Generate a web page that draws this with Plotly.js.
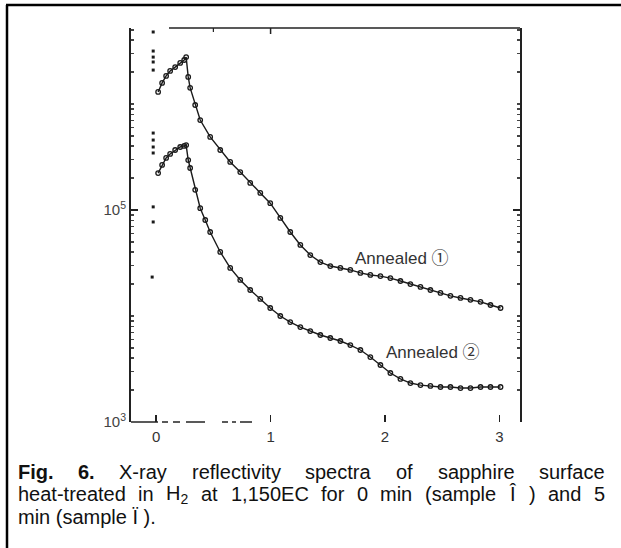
<!DOCTYPE html>
<html>
<head>
<meta charset="utf-8">
<script src="https://cdn.plot.ly/plotly-3.0.1.min.js"></script>
<style>html,body{margin:0;padding:0;background:#fff;}#chart{width:621px;height:548px;}</style>
</head>
<body>
<div id="chart"></div>
<script>
// ---- data (x: scattering vector units, y: reflectivity counts) ----
const spike1_x = [-0.026, -0.026, -0.026, -0.026, -0.026];
const spike1_y = [4.78e6, 3.16e6, 2.77e6, 2.49e6, 2.09e6];
const spike2_x = [-0.026, -0.026, -0.026, -0.026, -0.026, -0.026, -0.035];
const spike2_y = [5.32e5, 4.57e5, 3.93e5, 3.45e5, 1.07e5, 7.71e4, 2.33e4];

const annealed1_x = [0.017,0.052,0.087,0.122,0.166,0.21,0.245,0.262,0.28,0.297,0.341,0.385,0.472,0.56,0.647,0.735,0.822,0.91,0.997,1.085,1.172,1.26,1.347,1.435,1.522,1.61,1.697,1.785,1.872,1.96,2.047,2.135,2.222,2.31,2.397,2.485,2.572,2.66,2.747,2.835,2.922,3.01];
const annealed1_y = [1.30e6,1.58e6,1.84e6,2.05e6,2.23e6,2.44e6,2.60e6,2.77e6,1.80e6,1.42e6,9.79e5,7.06e5,4.89e5,3.68e5,2.84e5,2.28e5,1.80e5,1.45e5,1.16e5,8.41e4,6.20e4,4.68e4,3.76e4,3.23e4,2.96e4,2.84e4,2.72e4,2.55e4,2.44e4,2.38e4,2.28e4,2.14e4,2.00e4,1.88e4,1.76e4,1.65e4,1.55e4,1.48e4,1.42e4,1.36e4,1.27e4,1.19e4];

const annealed2_x = [0.017,0.052,0.087,0.122,0.166,0.21,0.245,0.262,0.28,0.297,0.341,0.385,0.429,0.472,0.56,0.647,0.735,0.822,0.91,0.997,1.085,1.172,1.26,1.347,1.435,1.522,1.61,1.697,1.785,1.872,1.96,2.047,2.135,2.222,2.31,2.397,2.485,2.572,2.66,2.747,2.835,2.922,3.01];
const annealed2_y = [2.23e5,2.66e5,3.10e5,3.38e5,3.68e5,3.93e5,4.02e5,4.10e5,2.96e5,2.49e5,1.55e5,1.04e5,8.05e4,6.20e4,4.02e4,2.84e4,2.19e4,1.76e4,1.45e4,1.19e4,1.0e4,8.77e3,7.87e3,7.21e3,6.62e3,6.20e3,5.81e3,5.32e3,4.78e3,4.10e3,3.45e3,2.90e3,2.55e3,2.33e3,2.23e3,2.19e3,2.14e3,2.14e3,2.09e3,2.09e3,2.14e3,2.14e3,2.14e3];

const xTickVals = [0, 1, 2, 3];
const xTickText = ['0', '1', '2', '3'];
const yTickVals = [1e3, 1e5];
const yTickText = ['10<sup>3</sup>', '10<sup>5</sup>'];
const seriesLabels = ['Annealed \u2460', 'Annealed \u2461'];
const captionLine1 = ['<b>Fig.</b>', '<b>6.</b>', 'X-ray', 'reflectivity', 'spectra', 'of', 'sapphire', 'surface'];
const captionLine2 = ['heat-treated', 'in', 'H<sub>2</sub>', 'at', '1,150EC', 'for', '0', 'min', '(sample', '\u00CE', ')', 'and', '5'];
const captionLine3 = 'min (sample \u00CF ).';

// ---- layout geometry ----
const W = 621, H = 548, ML = 131, MR = 101, MT = 28, MB = 126;
const PW = W - ML - MR, PH = H - MT - MB;
const px = v => (v - ML) / PW;
const py = v => (MT + PH - v) / PH;

const ink = '#1a1a1a';
const markerStyle = {symbol: 'circle-open', size: 4.5, color: ink, line: {width: 1.3, color: ink}};

const traces = [
  {x: annealed1_x, y: annealed1_y, mode: 'lines+markers', line: {color: ink, width: 1.4}, marker: markerStyle, name: seriesLabels[0]},
  {x: annealed2_x, y: annealed2_y, mode: 'lines+markers', line: {color: ink, width: 1.4}, marker: markerStyle, name: seriesLabels[1]},
  {x: spike1_x, y: spike1_y, mode: 'markers', marker: {symbol: 'square', size: 3, color: ink}},
  {x: spike2_x, y: spike2_y, mode: 'markers', marker: {symbol: 'square', size: 3, color: ink}}
];

const capFont = {family: 'Liberation Sans, Arial, sans-serif', size: 20, color: '#111'};
function word(text, x, y) {
  return {text: text, xref: 'paper', yref: 'paper', x: px(x), y: py(y),
    xanchor: 'left', yanchor: 'middle', showarrow: false, font: capFont, borderpad: 0, borderwidth: 0};
}
const annotations = [];
const lineWords = [];
[[captionLine1, 472], [captionLine2, 494]].forEach(([words, yy]) => {
  const idx = [];
  words.forEach((w, i) => { idx.push(annotations.length); annotations.push(word(w, 18 + i * 40, yy)); });
  lineWords.push(idx);
});
annotations.push(word(captionLine3, 18, 517));

const lblFont = {family: 'Liberation Sans, Arial, Noto Sans CJK SC, sans-serif', size: 17, color: '#333'};
annotations.push({text: seriesLabels[0], x: 2.15, y: Math.log10(3.52e4), xref: 'x', yref: 'y', showarrow: false, font: lblFont});
annotations.push({text: seriesLabels[1], x: 2.42, y: Math.log10(4.48e3), xref: 'x', yref: 'y', showarrow: false, font: lblFont});

const axisInk = '#222';
const shapes = [
  // outer figure box (left and top edges)
  {type: 'line', xref: 'paper', yref: 'paper', x0: px(7), x1: px(7), y0: py(5), y1: py(560), line: {color: '#000', width: 2.5}},
  {type: 'line', xref: 'paper', yref: 'paper', x0: px(6), x1: px(630), y0: py(5), y1: py(5), line: {color: '#000', width: 2.5}},
  // partial top frame
  {type: 'line', xref: 'paper', yref: 'paper', x0: px(169), x1: 1, y0: 1, y1: 1, line: {color: axisInk, width: 1.5}},
  {type: 'line', xref: 'x', yref: 'paper', x0: 0.5, x1: 0.5, y0: 1, y1: py(32), line: {color: axisInk, width: 1.2}},
  {type: 'line', xref: 'x', yref: 'paper', x0: 1, x1: 1, y0: 1, y1: py(34), line: {color: axisInk, width: 1.5}},
];
// broken bottom axis as it appears in the scan
const bottomSegs = [[131, 158], [162, 168], [173, 180], [186, 205], [222, 228], [232, 236], [240, 252]];
bottomSegs.forEach(s => shapes.push({type: 'line', xref: 'paper', yref: 'paper', x0: px(s[0]), x1: px(s[1]), y0: 0, y1: 0, line: {color: axisInk, width: 1.5}}));

const layout = {
  width: W, height: H,
  margin: {l: ML, r: MR, t: MT, b: MB, pad: 0},
  paper_bgcolor: '#fff', plot_bgcolor: '#fff',
  showlegend: false,
  xaxis: {range: [-0.22, 3.18], tickmode: 'array', tickvals: xTickVals, ticktext: xTickText,
    ticks: 'inside', ticklen: 7, tickwidth: 1.5, tickcolor: axisInk, showline: false, showgrid: false, zeroline: false,
    ticklabelstandoff: 4,
    tickfont: {family: 'Liberation Sans, Arial, sans-serif', size: 15, color: '#333'}},
  yaxis: {type: 'log', range: [3, 6.717], tickmode: 'array', tickvals: yTickVals, ticktext: yTickText,
    ticks: 'inside', ticklen: 7, tickwidth: 1.5, tickcolor: axisInk, showline: true, linewidth: 2, linecolor: axisInk,
    mirror: 'ticks', showgrid: false, zeroline: false,
    minor: {ticks: 'inside', ticklen: 3, tickcolor: '#444', dtick: 'D1', showgrid: false},
    tickfont: {family: 'Liberation Sans, Arial, sans-serif', size: 15, color: '#444'}},
  annotations: annotations,
  shapes: shapes
};

const gd = document.getElementById('chart');
Plotly.newPlot(gd, traces, layout, {staticPlot: true, displayModeBar: false}).then(() => {
  // justify caption lines 1 and 2 between x=18 and x=605 using measured word widths
  const els = gd.querySelectorAll('.infolayer g.annotation');
  const widthOf = i => {
    const g = Array.from(els).find(e => +e.getAttribute('data-index') === i);
    const t = g ? g.querySelector('text') : null;
    return t ? t.getBoundingClientRect().width : 0;
  };
  const upd = {};
  lineWords.forEach(idx => {
    const ws = idx.map(widthOf);
    const total = ws.reduce((a, b) => a + b, 0);
    const gap = (605 - 18 - total) / (idx.length - 1);
    let cur = 18;
    idx.forEach((ai, k) => { upd['annotations[' + ai + '].x'] = px(cur); cur += ws[k] + gap; });
  });
  return Plotly.relayout(gd, upd);
});
</script>
</body>
</html>
